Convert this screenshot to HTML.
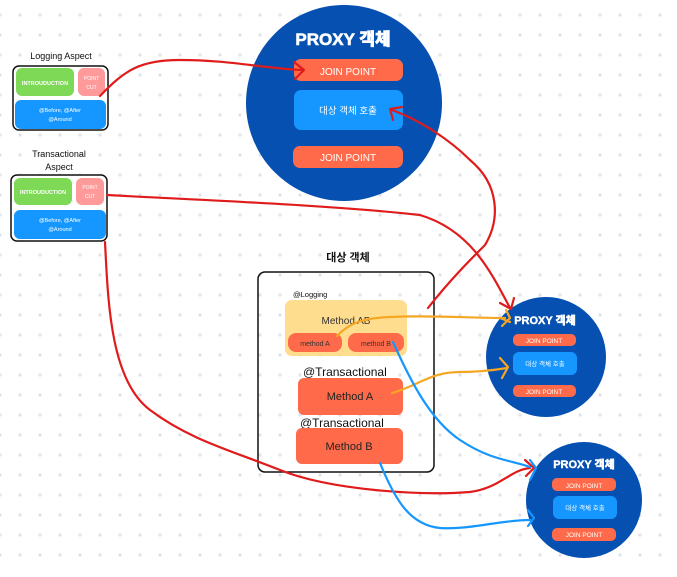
<!DOCTYPE html>
<html><head><meta charset="utf-8"><style>
body{margin:0;width:677px;height:572px;overflow:hidden;background:#fff;font-family:"Liberation Sans","Noto Sans CJK KR",sans-serif}
</style></head><body>
<svg width="677" height="572" viewBox="0 0 677 572" xmlns="http://www.w3.org/2000/svg" font-family="Liberation Sans, Noto Sans CJK KR, sans-serif">
<defs><pattern id="d" x="0" y="15" width="20" height="20" patternUnits="userSpaceOnUse"><circle cx="0" cy="0" r="1.6" fill="#dfe2e8"/><circle cx="20" cy="0" r="1.6" fill="#dfe2e8"/><circle cx="0" cy="20" r="1.6" fill="#dfe2e8"/><circle cx="20" cy="20" r="1.6" fill="#dfe2e8"/></pattern></defs>
<rect width="677" height="572" fill="url(#d)"/>

<!-- Logging aspect -->
<text x="61" y="59" font-size="9" text-anchor="middle" fill="#111">Logging Aspect</text>
<rect x="13" y="66" width="95" height="64" rx="6" fill="#fff" stroke="#111" stroke-width="1.5"/>
<rect x="16" y="68" width="58" height="28" rx="6" fill="#7ed957"/>
<text x="45" y="85" font-size="5.5" font-weight="bold" text-anchor="middle" fill="#fff">INTROUDUCTION</text>
<rect x="78" y="68" width="27" height="28" rx="6" fill="#ff9a9a"/>
<text x="91.5" y="80" font-size="5" text-anchor="middle" fill="#fff">POINT</text><text x="91.5" y="89" font-size="5" text-anchor="middle" fill="#fff">CUT</text>
<rect x="15" y="100" width="91" height="29" rx="6" fill="#1597ff"/>
<text x="60" y="112" font-size="5.5" text-anchor="middle" fill="#fff">@Before, @After</text><text x="60" y="121" font-size="5.5" text-anchor="middle" fill="#fff">@Around</text>

<!-- Transactional aspect -->
<text x="59" y="157" font-size="9" text-anchor="middle" fill="#111">Transactional</text>
<text x="59" y="170" font-size="9" text-anchor="middle" fill="#111">Aspect</text>
<rect x="11" y="175" width="96" height="66" rx="6" fill="#fff" stroke="#111" stroke-width="1.5"/>
<rect x="14" y="178" width="58" height="27" rx="6" fill="#7ed957"/>
<text x="43" y="194" font-size="5.5" font-weight="bold" text-anchor="middle" fill="#fff">INTROUDUCTION</text>
<rect x="76" y="178" width="28" height="27" rx="6" fill="#ff9a9a"/>
<text x="90" y="189" font-size="5" text-anchor="middle" fill="#fff">POINT</text><text x="90" y="198" font-size="5" text-anchor="middle" fill="#fff">CUT</text>
<rect x="14" y="210" width="92" height="29" rx="6" fill="#1597ff"/>
<text x="60" y="222" font-size="5.5" text-anchor="middle" fill="#fff">@Before, @After</text><text x="60" y="231" font-size="5.5" text-anchor="middle" fill="#fff">@Around</text>

<!-- Big proxy -->
<circle cx="344" cy="103" r="98" fill="#0550b0"/>
<text x="343" y="45" font-size="17" font-weight="900" text-anchor="middle" fill="#fff" stroke="#fff" stroke-width="0.6">PROXY 객체</text>
<rect x="294" y="59" width="109" height="22" rx="7" fill="#ff6b4a"/>
<text x="348" y="75" font-size="10" text-anchor="middle" fill="#fff">JOIN POINT</text>
<rect x="294" y="90" width="109" height="40" rx="7" fill="#1597ff"/>
<text x="348" y="114" font-size="9.5" text-anchor="middle" fill="#fff">대상 객체 호출</text>
<rect x="293" y="146" width="110" height="22" rx="7" fill="#ff6b4a"/>
<text x="348" y="161" font-size="10" text-anchor="middle" fill="#fff">JOIN POINT</text>

<!-- Target -->
<text x="348" y="261" font-size="11" font-weight="bold" text-anchor="middle" fill="#111">대상 객체</text>
<rect x="258" y="272" width="176" height="200" rx="7" fill="none" stroke="#111" stroke-width="1.5"/>
<text x="293" y="297" font-size="7.5" fill="#111">@Logging</text>
<rect x="285" y="300" width="122" height="56" rx="7" fill="#ffdd8e"/>
<text x="346" y="324" font-size="10" text-anchor="middle" fill="#333">Method AB</text>
<rect x="288" y="333" width="54" height="19" rx="8" fill="#ff6b4a"/>
<text x="315" y="346" font-size="7" text-anchor="middle" fill="#333">method A</text>
<rect x="348" y="333" width="56" height="19" rx="8" fill="#ff6b4a"/>
<text x="376" y="346" font-size="7" text-anchor="middle" fill="#333">method B</text>
<text x="303" y="376" font-size="12" fill="#111">@Transactional</text>
<rect x="298" y="378" width="105" height="37" rx="6" fill="#ff6b4a"/>
<text x="350" y="400" font-size="11" text-anchor="middle" fill="#222">Method A</text>
<text x="300" y="427" font-size="12" fill="#111">@Transactional</text>
<rect x="296" y="428" width="107" height="36" rx="6" fill="#ff6b4a"/>
<text x="349" y="450" font-size="11" text-anchor="middle" fill="#222">Method B</text>

<!-- Proxy 2 -->
<circle cx="546" cy="357" r="60" fill="#0550b0"/>
<text x="545" y="324" font-size="11" font-weight="900" text-anchor="middle" fill="#fff" stroke="#fff" stroke-width="0.4">PROXY 객체</text>
<rect x="513" y="334" width="63" height="12" rx="5" fill="#ff6b4a"/>
<text x="544" y="343" font-size="6.5" text-anchor="middle" fill="#fff">JOIN POINT</text>
<rect x="513" y="352" width="64" height="23" rx="6" fill="#1597ff"/>
<text x="545" y="366" font-size="6.5" text-anchor="middle" fill="#fff">대상 객체 호출</text>
<rect x="513" y="385" width="63" height="12" rx="5" fill="#ff6b4a"/>
<text x="544" y="394" font-size="6.5" text-anchor="middle" fill="#fff">JOIN POINT</text>

<!-- Proxy 3 -->
<circle cx="584" cy="500" r="58" fill="#0550b0"/>
<text x="584" y="468" font-size="11" font-weight="900" text-anchor="middle" fill="#fff" stroke="#fff" stroke-width="0.4">PROXY 객체</text>
<rect x="552" y="478" width="64" height="13" rx="5" fill="#ff6b4a"/>
<text x="584" y="488" font-size="6.5" text-anchor="middle" fill="#fff">JOIN POINT</text>
<rect x="553" y="496" width="64" height="23" rx="6" fill="#1597ff"/>
<text x="585" y="510" font-size="6.5" text-anchor="middle" fill="#fff">대상 객체 호출</text>
<rect x="552" y="528" width="64" height="13" rx="5" fill="#ff6b4a"/>
<text x="584" y="537" font-size="6.5" text-anchor="middle" fill="#fff">JOIN POINT</text>

<!-- connectors -->
<g fill="none" stroke-width="2.2" stroke-linecap="round" stroke-linejoin="round">
<path d="M100 96 C125 70 140 60 180 60 C230 60 260 68 302 70" stroke="#e01b1b"/>
<path d="M294 62 L304 70 L295 79" stroke="#e01b1b"/>
<path d="M428 308 C450 280 470 260 485 245 C500 220 500 185 470 160 C450 140 420 120 392 110" stroke="#e01b1b"/>
<path d="M393 120 L390 109 L402 107" stroke="#e01b1b"/>
<path d="M107 195 C200 200 330 205 420 215 C470 230 490 270 510 308" stroke="#e01b1b"/>
<path d="M500 303 L511 309 L514 298" stroke="#e01b1b"/>
<path d="M105 242 C108 300 110 380 150 410 C190 440 230 450 280 470 C330 490 420 496 470 492 C500 488 510 470 530 468" stroke="#e01b1b"/>
<path d="M525 460 L534 468 L526 476" stroke="#e01b1b"/>
<path d="M337 336 C350 322 365 318 390 317 C430 315 470 318 505 318" stroke="#f5a623"/>
<path d="M506 310 L510 318 L502 326 M500 318 L510 322" stroke="#f5a623"/>
<path d="M392 393 C420 385 430 372 460 372 C480 372 495 370 507 368" stroke="#f5a623"/>
<path d="M500 358 L508 367 L502 378" stroke="#f5a623"/>
<path d="M393 342 C410 380 430 420 460 440 C490 460 510 460 530 467" stroke="#1597ff"/>
<path d="M530 460 L536 468 L530 480" stroke="#1597ff"/>
<path d="M380 463 C395 500 410 525 440 528 C470 530 500 520 530 520" stroke="#1597ff"/>
<path d="M528 510 L534 518 L528 526" stroke="#1597ff"/>
</g>
</svg>
</body></html>
